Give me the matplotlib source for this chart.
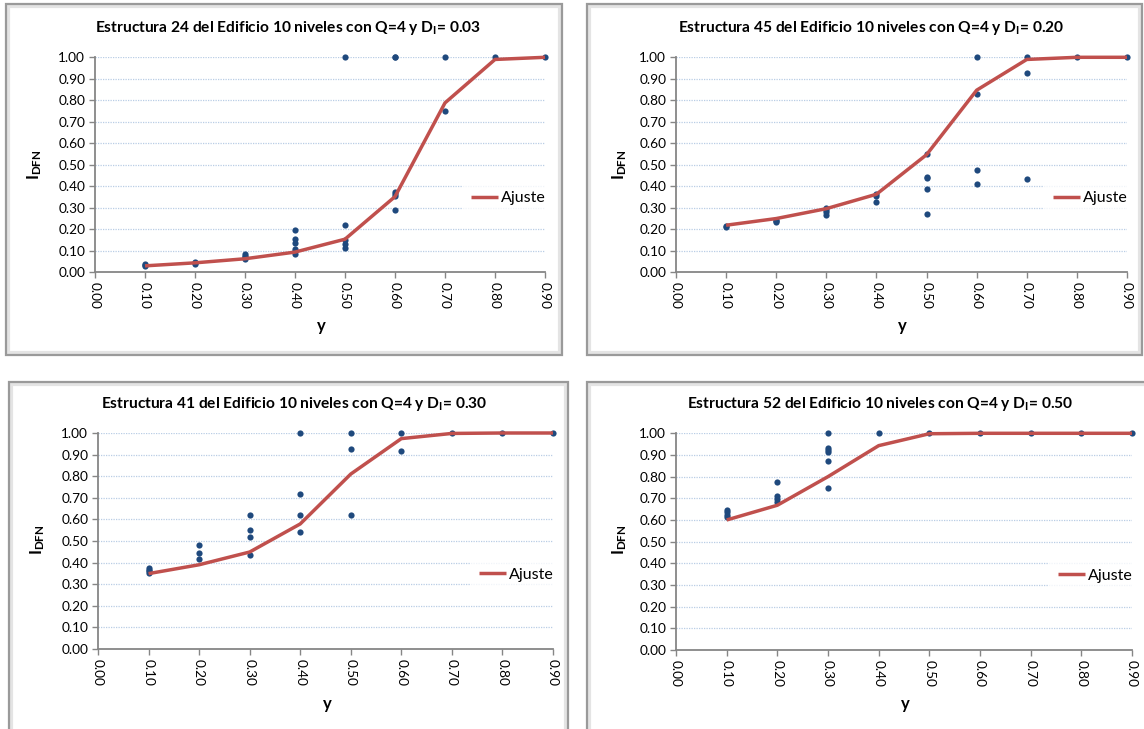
import matplotlib
matplotlib.use("Agg")
import matplotlib.pyplot as plt
from matplotlib.patches import Rectangle

plt.rcParams['font.family'] = ['Lato', 'DejaVu Sans']
plt.rcParams['mathtext.fontset'] = 'custom'
plt.rcParams['mathtext.rm'] = 'Lato:bold'
plt.rcParams['mathtext.it'] = 'Lato:bold'
plt.rcParams['mathtext.bf'] = 'Lato:bold'
plt.rcParams['mathtext.default'] = 'rm'

# ---------------- data ----------------
x_vals = [0.1, 0.2, 0.3, 0.4, 0.5, 0.6, 0.7, 0.8, 0.9]
x_ticks = [0.0, 0.1, 0.2, 0.3, 0.4, 0.5, 0.6, 0.7, 0.8, 0.9]
y_ticks = [0.0, 0.1, 0.2, 0.3, 0.4, 0.5, 0.6, 0.7, 0.8, 0.9, 1.0]

titles = [
    "Estructura 24 del Edificio 10 niveles con Q=4 y D$_{I}$= 0.03",
    "Estructura 45 del Edificio 10 niveles con Q=4 y D$_{I}$= 0.20",
    "Estructura 41 del Edificio 10 niveles con Q=4 y D$_{I}$= 0.30",
    "Estructura 52 del Edificio 10 niveles con Q=4 y D$_{I}$= 0.50",
]

fit_24 = [0.030, 0.044, 0.063, 0.094, 0.154, 0.352, 0.788, 0.990, 1.000]
pts_24 = [
    [0.030, 0.034, 0.038],
    [0.040, 0.045, 0.048],
    [0.062, 0.070, 0.078, 0.087],
    [0.197, 0.155, 0.135, 0.110, 0.100, 0.085],
    [1.000, 0.219, 0.152, 0.132, 0.115],
    [1.000, 1.000, 0.375, 0.365, 0.355, 0.288],
    [1.000, 0.748],
    [1.000],
    [1.000],
]

fit_45 = [0.219, 0.250, 0.296, 0.363, 0.547, 0.847, 0.990, 1.000, 1.000]
pts_45 = [
    [0.210, 0.215],
    [0.235, 0.240, 0.245],
    [0.300, 0.290, 0.280, 0.268],
    [0.366, 0.355, 0.326],
    [0.548, 0.445, 0.440, 0.386, 0.273],
    [1.000, 0.828, 0.478, 0.413],
    [1.000, 0.925, 0.435],
    [1.000],
    [1.000],
]

fit_41 = [0.349, 0.390, 0.449, 0.579, 0.810, 0.974, 0.998, 1.000, 1.000]
pts_41 = [
    [0.375, 0.368, 0.360, 0.352],
    [0.481, 0.444, 0.417],
    [0.622, 0.551, 0.520, 0.434],
    [1.000, 0.719, 0.622, 0.542],
    [1.000, 0.924, 0.622],
    [1.000, 0.918],
    [1.000],
    [1.000],
    [1.000],
]

fit_52 = [0.600, 0.668, 0.800, 0.943, 0.998, 1.000, 1.000, 1.000, 1.000]
pts_52 = [
    [0.645, 0.635, 0.625, 0.615],
    [0.775, 0.710, 0.695, 0.683],
    [1.000, 0.932, 0.925, 0.912, 0.872, 0.748],
    [1.000],
    [1.000],
    [1.000],
    [1.000],
    [1.000],
    [1.000],
]

fits = [fit_24, fit_45, fit_41, fit_52]
points = [pts_24, pts_45, pts_41, pts_52]

# ---------------- layout (pixels) ----------------
W, H = 1144, 729
fig = plt.figure(figsize=(W / 100, H / 100), dpi=100)
fig.patch.set_facecolor('white')

def fx(x):
    return x / W

def fy(y):
    return 1 - y / H

axes_px = [(95, 57.3, 545, 272.3), (676, 57.3, 1127, 272.3),
           (98, 433, 553, 649), (676, 433.3, 1132, 650)]
frames_px = [(6, 4, 562, 355), (587, 4, 1142, 355),
             (9, 382, 568, 735), (587, 382, 1150, 735)]
title_px = [(288, 28), (871, 28), (294, 404), (880, 404)]
ylab_px = [(35, 165), (620, 165), (38, 540), (620, 540)]
xlab_px = [(321, 326), (902, 326), (327, 704), (905, 704)]

LINE_C = '#C0504D'
PT_C = '#1F497D'
SPINE_C = '#868686'
GRID_C = '#B9CDE5'

for i in range(4):
    # frame with soft shadow
    x0, y0, x1, y1 = frames_px[i]
    fig.add_artist(Rectangle((fx(x0 + 2), fy(y1 - 2)), fx(x1 - x0 - 4), (y1 - y0 - 4) / H,
                             transform=fig.transFigure, fill=False,
                             edgecolor='#e4e4e4', lw=3, zorder=0))
    fig.add_artist(Rectangle((fx(x0), fy(y1)), fx(x1 - x0), (y1 - y0) / H,
                             transform=fig.transFigure, fill=False,
                             edgecolor='#9a9a9a', lw=1.6, zorder=0))

    l, t, r, b = axes_px[i]
    ax = fig.add_axes([fx(l), fy(b), fx(r - l), (b - t) / H])
    ax.set_xlim(0, 0.9)
    ax.set_ylim(0, 1.0)
    ax.set_xticks(x_ticks)
    ax.set_xticklabels([f"{v:.2f}" for v in x_ticks], rotation=-90, fontsize=9.8)
    ax.set_yticks(y_ticks)
    ax.set_yticklabels([f"{v:.2f}" for v in y_ticks], fontsize=9.8)
    for s in ['top', 'right']:
        ax.spines[s].set_visible(False)
    for s in ['left', 'bottom']:
        ax.spines[s].set_color(SPINE_C)
        ax.spines[s].set_linewidth(1.3)
    ax.tick_params(axis='both', direction='out', length=4, width=1.0,
                   color=SPINE_C, colors='black', pad=3)
    ax.tick_params(axis='y', labelcolor='black')
    ax.tick_params(axis='x', labelcolor='black')
    ax.yaxis.grid(True, linestyle=(0, (1, 1)), color=GRID_C, lw=0.9)
    ax.set_axisbelow(True)
    for sp in ax.spines.values():
        sp.set_zorder(1)

    xs, ys = [], []
    for xv, grp in zip(x_vals, points[i]):
        for yv in grp:
            xs.append(xv)
            ys.append(yv)
    ax.scatter(xs, ys, s=20, color=PT_C, zorder=3, clip_on=False, linewidths=0)
    ax.plot(x_vals, fits[i], color=LINE_C, lw=2.5, zorder=4, label='Ajuste',
            solid_capstyle='butt', clip_on=False)

    leg = ax.legend(loc='center right', bbox_to_anchor=(1.02, 0.344), fontsize=11.5,
                    frameon=True, fancybox=False, handlelength=1.7,
                    handletextpad=0.15, borderpad=0.55, borderaxespad=0)
    leg.get_frame().set_facecolor('white')
    leg.get_frame().set_edgecolor('none')
    leg.set_zorder(5)

    tx, ty = title_px[i]
    fig.text(fx(tx), fy(ty), titles[i], ha='center', va='center',
             fontsize=11.2, fontweight='bold')
    lx, ly = ylab_px[i]
    fig.text(fx(lx), fy(ly), "I$_{DFN}$", ha='center', va='center', rotation=90,
             fontsize=12, fontweight='bold')
    bx, by = xlab_px[i]
    fig.text(fx(bx), fy(by), "y", ha='center', va='center',
             fontsize=12, fontweight='bold')

fig.savefig('out.png', dpi=100, facecolor='white')
